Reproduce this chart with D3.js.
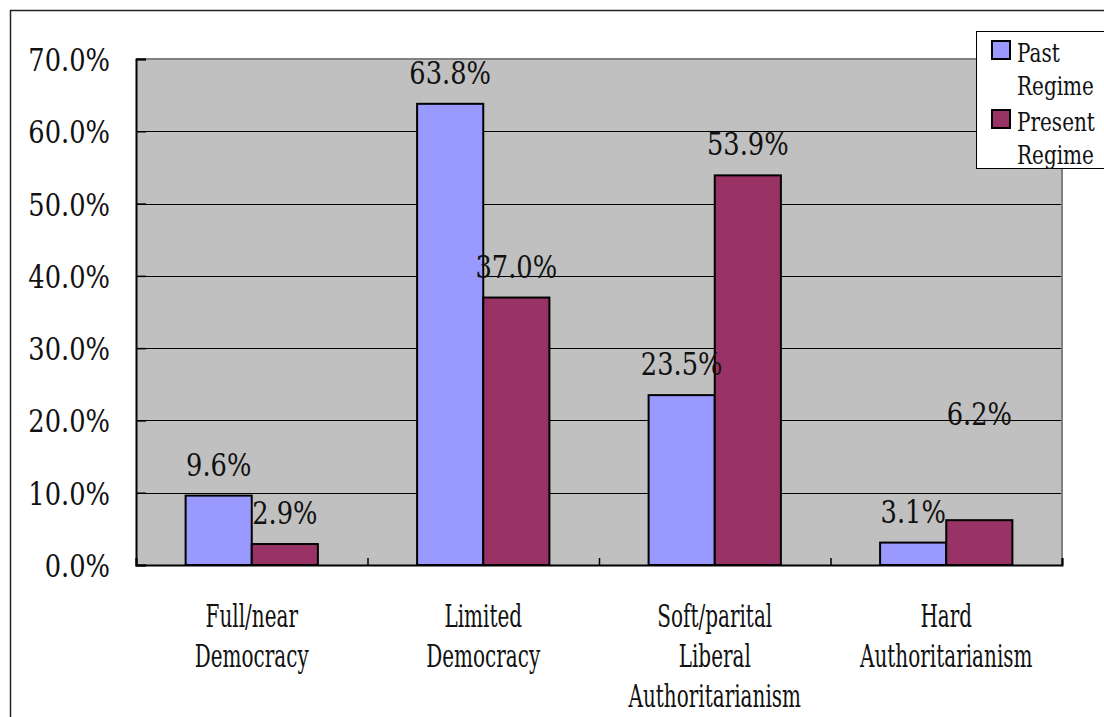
<!DOCTYPE html>
<html><head><meta charset="utf-8">
<script src="https://cdn.jsdelivr.net/npm/d3@7"></script>
<style>html,body{margin:0;padding:0;background:#fff;overflow:hidden}
text{font-family:"DejaVu Serif","Liberation Serif",serif;}</style>
</head><body>
<svg id="c" width="1104" height="717"></svg>
<script>
const categories = [["Full/near","Democracy"],["Limited","Democracy"],["Soft/parital","Liberal","Authoritarianism"],["Hard","Authoritarianism"]];
const seriesNames = ["Past Regime","Present Regime"];
const pastValues = [9.6, 63.8, 23.5, 3.1];
const presentValues = [2.9, 37.0, 53.9, 6.2];
const yTicks = [0,10,20,30,40,50,60,70];
const colors = ["#9999FF","#993366"];

const svg = d3.select("#c");
const L = 136, R = 1062, T = 59, B = 565;

function txt(parent, x, y, s, size, sx, anchor){
  const g = parent.append("g").attr("transform", `translate(${x},${y}) scale(${sx},1)`);
  g.append("text").attr("x",0).attr("y",0).attr("font-size",size)
    .attr("text-anchor",anchor).attr("fill","#111").text(s);
  return g;
}

svg.append("rect").attr("x",10.5).attr("y",10.5).attr("width",1120).attr("height",730)
  .attr("fill","#fff").attr("stroke","#222").attr("stroke-width",1.5);

const y = d3.scaleLinear().domain([0,70]).range([B,T]);
const x0 = d3.scaleBand().domain(d3.range(categories.length)).range([L,R]).padding(0);
const x1 = d3.scaleBand().domain([0,1]).range([0,x0.bandwidth()]).paddingInner(0).paddingOuter(0.75);

svg.append("rect").attr("x",L).attr("y",T).attr("width",R-L).attr("height",B-T).attr("fill","#C0C0C0");
svg.append("g").selectAll("line").data(yTicks.filter(t=>t>0 && t<70)).join("line")
  .attr("x1",L).attr("x2",R).attr("y1",d=>Math.round(y(d))+0.5).attr("y2",d=>Math.round(y(d))+0.5)
  .attr("stroke","#000").attr("stroke-width",1);
svg.append("path").attr("d",`M${L},${T}H${R}V${B}`).attr("fill","none").attr("stroke","#808080").attr("stroke-width",2);

const data = pastValues.map((v,i)=>[v, presentValues[i]]);
const bars = svg.append("g");
data.forEach((pair,i)=>{
  pair.forEach((v,j)=>{
    bars.append("rect").attr("x",x0(i)+x1(j)).attr("y",y(v)).attr("width",x1.bandwidth()).attr("height",B-y(v))
      .attr("fill",colors[j]).attr("stroke","#000").attr("stroke-width",2);
  });
});

const yAxis = svg.append("g").attr("transform",`translate(${L},0)`).call(d3.axisLeft(y).tickValues(yTicks).tickSize(-10).tickFormat(""));
yAxis.select(".domain").attr("stroke","#000").attr("stroke-width",2);
yAxis.selectAll(".tick line").attr("stroke","#000").attr("stroke-width",1.5);
const xAxis = svg.append("g").attr("transform",`translate(0,${B})`).call(d3.axisBottom(d3.scaleLinear().domain([0,4]).range([L,R])).tickValues([0,1,2,3,4]).tickSize(-7).tickFormat(""));
xAxis.select(".domain").attr("stroke","#000").attr("stroke-width",2);
xAxis.selectAll(".tick line").attr("stroke","#000").attr("stroke-width",1.5);

yTicks.forEach(t=>{ txt(svg, 110, y(t)+12, t.toFixed(1)+"%", 31, 0.83, "end"); });

categories.forEach((lines,i)=>{
  const cx = x0(i)+x0.bandwidth()/2;
  lines.forEach((s,k)=>{ txt(svg, cx, 627+k*40, s, 31, 0.645, "middle"); });
});

const extraDy = [[0,0],[0,0],[0,0],[0,-75]];
data.forEach((pair,i)=>{
  pair.forEach((v,j)=>{
    const cx = x0(i)+x1(j)+x1.bandwidth()/2;
    txt(svg, cx, y(v)-20+extraDy[i][j], v.toFixed(1)+"%", 31, 0.83, "middle");
  });
});

const lg = svg.append("g");
lg.append("rect").attr("x",976.5).attr("y",31.5).attr("width",140).attr("height",137).attr("fill","#fff").attr("stroke","#000").attr("stroke-width",1);
seriesNames.forEach((name,j)=>{
  const yy = 41 + j*69;
  lg.append("rect").attr("x",992).attr("y",yy).attr("width",18).attr("height",18).attr("fill",colors[j]).attr("stroke","#000").attr("stroke-width",2);
  const parts = name.split(" ");
  parts.forEach((p,k)=>{ txt(lg, 1017, yy+21+k*33, p, 26, 0.77, "start"); });
});
</script>
</body></html>
